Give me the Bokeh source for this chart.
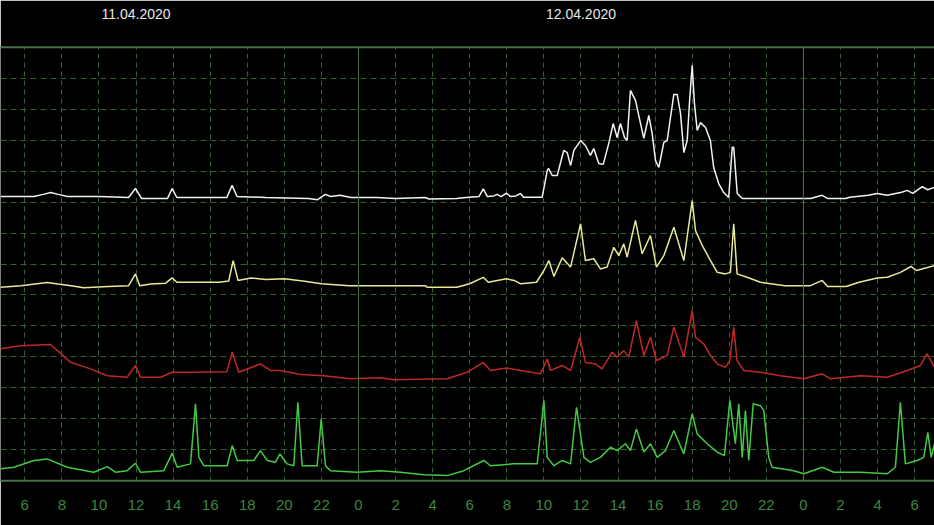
from bokeh.plotting import figure
from bokeh.models import Range1d, FixedTicker, LinearAxis, Span
from bokeh.embed import file_html
from bokeh.resources import INLINE

# time in hours from 00:00 on 11.04.2020, values in grid units (0..14)
white_t = [4.69, 6.5, 7.0, 7.4, 7.8, 8.3, 10.0, 11.6, 11.97, 12.3, 13.7, 13.95, 14.2, 16.9, 17.18, 17.45,
           19.0, 21.3, 21.8, 22.2, 22.5, 23.0, 23.6, 25.0, 26.0, 27.6, 27.8, 29.3, 29.8, 30.5, 30.73, 30.95,
           31.3, 31.48, 31.7, 31.98, 32.2, 32.5, 32.74, 32.9, 33.91, 34.18, 34.25, 34.45, 34.72, 35.07, 35.26,
           35.44, 35.62, 35.98, 36.24, 36.51, 36.69, 36.96, 37.20, 37.50, 37.74, 37.95, 38.13, 38.35, 38.49,
           38.67, 38.94, 39.39, 39.66, 39.84, 40.02, 40.20, 40.47, 40.65, 40.83, 41.01, 41.19, 41.37, 41.55,
           41.73, 41.85, 42.00, 42.12, 42.27, 42.45, 42.72, 42.98, 43.16, 43.43, 43.70, 43.97, 44.16, 44.24,
           44.43, 44.70, 48.38, 49.01, 49.3, 50.27, 50.5, 51.5, 51.98, 52.52, 53.3, 53.60, 53.9, 54.41, 54.7, 55.07]
white_v = [9.18, 9.18, 9.25, 9.31, 9.25, 9.18, 9.18, 9.15, 9.44, 9.12, 9.12, 9.44, 9.15, 9.15, 9.54, 9.18,
           9.15, 9.12, 9.08, 9.25, 9.18, 9.22, 9.15, 9.15, 9.12, 9.15, 9.10, 9.12, 9.15, 9.18, 9.43, 9.18,
           9.20, 9.25, 9.18, 9.29, 9.18, 9.20, 9.28, 9.16, 9.16, 10.02, 10.09, 9.86, 9.86, 10.67, 10.60,
           10.18, 10.67, 10.99, 10.83, 10.51, 10.73, 10.25, 10.22, 10.90, 11.54, 11.09, 11.54, 11.09, 10.99,
           12.61, 12.29, 11.06, 11.80, 11.22, 10.35, 10.12, 10.93, 10.99, 11.74, 12.48, 12.48, 11.87, 10.60,
           10.99, 12.19, 13.42, 12.19, 11.32, 11.57, 11.41, 10.99, 10.12, 9.60, 9.31, 9.15, 10.77, 10.77,
           9.28, 9.12, 9.12, 9.22, 9.12, 9.12, 9.16, 9.22, 9.28, 9.22, 9.32, 9.38, 9.28, 9.50, 9.40, 9.48]

yellow_t = [4.69, 5.8, 7.2, 7.8, 8.5, 9.17, 10.5, 11.6, 11.97, 12.2, 12.8, 13.6, 13.95, 14.2, 15.0, 16.5,
            17.0, 17.24, 17.5, 18.2, 19.0, 20.0, 21.0, 22.0, 23.5, 24.5, 27.6, 27.7, 29.3, 30.0, 30.73, 31.0,
            31.98, 32.4, 32.74, 33.6, 34.00, 34.27, 34.54, 34.99, 35.44, 35.98, 36.24, 36.69, 37.05, 37.41,
            37.77, 38.04, 38.31, 38.49, 38.94, 39.30, 39.75, 40.07, 40.47, 41.01, 41.55, 42.00, 42.18, 42.54,
            42.99, 43.35, 43.79, 44.06, 44.24, 44.42, 44.96, 45.68, 47.0, 48.38, 49.01, 49.3, 50.3, 51.0,
            51.98, 52.52, 53.23, 53.8, 54.1, 55.07]
yellow_v = [6.25, 6.30, 6.40, 6.35, 6.30, 6.23, 6.27, 6.30, 6.68, 6.30, 6.35, 6.38, 6.55, 6.41, 6.41, 6.41,
            6.45, 7.11, 6.47, 6.55, 6.50, 6.52, 6.45, 6.36, 6.30, 6.30, 6.30, 6.25, 6.25, 6.36, 6.57, 6.41,
            6.52, 6.47, 6.36, 6.41, 6.79, 7.11, 6.60, 7.20, 6.90, 8.30, 7.11, 7.17, 6.84, 6.90,
            7.54, 7.27, 7.65, 7.22, 8.41, 7.33, 7.92, 6.90, 7.27, 8.19, 7.11, 9.05, 8.08, 7.60,
            7.11, 6.73, 6.68, 6.73, 8.30, 6.68, 6.57, 6.41, 6.30, 6.30, 6.47, 6.27, 6.27, 6.41,
            6.55, 6.57, 6.73, 6.92, 6.79, 6.95]

red_t = [4.69, 5.77, 7.39, 8.47, 9.54, 10.45, 11.52, 11.97, 12.24, 13.32, 13.95, 14.94, 16.9, 17.19, 17.54,
         18.71, 19.25, 19.79, 20.87, 22.13, 23.57, 25.19, 25.90, 28.78, 29.86, 30.73, 31.12, 31.98, 32.74,
         33.82, 34.18, 34.36, 34.99, 35.44, 35.94, 36.24, 36.78, 37.14, 37.68, 37.95, 38.31, 38.58, 38.99,
         39.39, 39.75, 40.07, 40.65, 41.01, 41.55, 42.00, 42.18, 42.62, 42.99, 43.35, 43.79, 44.03, 44.24,
         44.42, 44.78, 45.68, 46.76, 48.02, 49.01, 49.46, 51.08, 52.52, 53.60, 54.31, 54.67, 55.07]
red_v = [4.26, 4.36, 4.40, 3.82, 3.61, 3.39, 3.34, 3.72, 3.34, 3.34, 3.50, 3.50, 3.52, 4.15, 3.50,
         3.77, 3.56, 3.56, 3.43, 3.39, 3.29, 3.32, 3.26, 3.29, 3.50, 3.82, 3.56, 3.64, 3.56,
         3.45, 3.93, 3.56, 3.72, 3.56, 4.63, 3.82, 3.77, 3.61, 4.15, 3.99, 4.20, 3.99, 5.17,
         4.04, 4.63, 3.88, 4.04, 4.96, 3.99, 5.50, 4.63, 4.42, 4.04, 3.77, 3.66, 3.88, 4.96,
         3.88, 3.56, 3.50, 3.39, 3.29, 3.45, 3.29, 3.39, 3.34, 3.56, 3.72, 4.10, 3.66]

green_t = [4.69, 5.41, 6.49, 7.21, 8.29, 9.72, 10.45, 10.89, 11.52, 11.97, 12.24, 13.50, 13.95, 14.22, 14.94,
           15.21, 15.39, 15.66, 16.92, 17.19, 17.46, 18.35, 18.71, 19.08, 19.52, 19.76, 20.15, 20.51, 20.73,
           20.96, 21.77, 21.99, 22.22, 22.49, 23.93, 25.19, 26.27, 27.52, 28.78, 29.68, 30.76, 31.12, 32.38,
           33.64, 34.00, 34.18, 34.54, 34.99, 35.44, 35.76, 36.16, 36.51, 37.05, 37.59, 37.95, 38.40, 38.67,
           38.99, 39.39, 39.75, 40.11, 40.56, 41.01, 41.55, 42.00, 42.27, 42.81, 43.35, 43.74, 44.03, 44.33,
           44.51, 44.70, 44.87, 45.05, 45.29, 45.68, 45.86, 46.13, 46.31, 47.48, 48.02, 49.01, 49.64, 51.08,
           52.52, 52.96, 53.23, 53.50, 54.13, 54.49, 54.71, 54.89, 55.07]
green_v = [0.38, 0.43, 0.65, 0.70, 0.43, 0.27, 0.45, 0.27, 0.32, 0.56, 0.27, 0.32, 0.88, 0.43, 0.54,
           2.48, 0.75, 0.48, 0.48, 1.13, 0.65, 0.65, 0.97, 0.65, 0.59, 0.86, 0.54, 0.48, 2.53,
           0.48, 0.48, 1.99, 0.48, 0.32, 0.27, 0.32, 0.27, 0.19, 0.16, 0.32, 0.65, 0.48, 0.54,
           0.54, 2.59, 0.75, 0.48, 0.65, 0.54, 2.37, 0.75, 0.59, 0.75, 1.08, 0.97, 1.19, 0.97,
           1.67, 0.92, 1.19, 0.75, 0.97, 1.62, 0.86, 2.16, 1.51, 1.19, 0.92, 0.81, 2.59, 1.19,
           2.48, 0.75, 2.26, 0.65, 2.48, 2.42, 2.26, 0.75, 0.43, 0.32, 0.22, 0.43, 0.27, 0.27,
           0.22, 0.43, 2.53, 0.54, 0.65, 0.75, 1.56, 0.75, 1.19]

hour_ticks = list(range(6, 55, 2))
hour_labels = {h: str(h % 24) for h in hour_ticks}
midnights = [24, 48]
date_pos = [12, 36]
date_labels = {12: "11.04.2020", 36: "12.04.2020"}
grid_rows = list(range(1, 14))

GRID = "#355f35"
FRAME = "#3d7a3d"

p = figure(width=934, height=525, output_backend="svg", toolbar_location=None,
           x_range=Range1d(4.69, 55.07), y_range=Range1d(-0.03, 14.03),
           min_border_left=0, min_border_right=0, min_border_top=46, min_border_bottom=44,
           background_fill_color="black", border_fill_color="black", outline_line_color=None)

# bottom axis (hours)
ax = p.xaxis[0]
ax.ticker = FixedTicker(ticks=hour_ticks)
ax.major_label_overrides = hour_labels
ax.axis_line_color = None
ax.major_tick_line_color = None
ax.minor_tick_line_color = None
ax.major_label_text_color = "#3c873c"
ax.major_label_text_font = "Liberation Sans"
ax.major_label_text_font_size = "15px"
ax.major_label_standoff = 12

# top axis (dates)
top = LinearAxis(ticker=FixedTicker(ticks=date_pos), major_label_overrides=date_labels,
                 axis_line_color=None, major_tick_line_color=None, minor_tick_line_color=None,
                 major_label_text_color="#e6e6e6", major_label_text_font="Liberation Sans",
                 major_label_text_font_size="14px", major_label_standoff=22)
p.add_layout(top, "above")

p.yaxis.visible = False

p.xgrid.ticker = FixedTicker(ticks=hour_ticks)
p.xgrid.grid_line_color = GRID
p.xgrid.grid_line_dash = "5 4"
p.xgrid.grid_line_width = 1
p.ygrid.ticker = FixedTicker(ticks=grid_rows)
p.ygrid.grid_line_color = GRID
p.ygrid.grid_line_dash = "6 4"
p.ygrid.grid_line_width = 1

for m in midnights:
    p.add_layout(Span(location=m, dimension="height", line_color=FRAME, line_width=1))
for yb in [0, 14]:
    p.add_layout(Span(location=yb, dimension="width", line_color=FRAME, line_width=1.5))

p.line(green_t, green_v, line_color="#45c845", line_width=1.5)
p.line(red_t, red_v, line_color="#c02828", line_width=1.5)
p.line(yellow_t, yellow_v, line_color="#e8e89a", line_width=1.5)
p.line(white_t, white_v, line_color="#f2f2f2", line_width=1.5)

open("out.html", "w").write(file_html(p, INLINE))
